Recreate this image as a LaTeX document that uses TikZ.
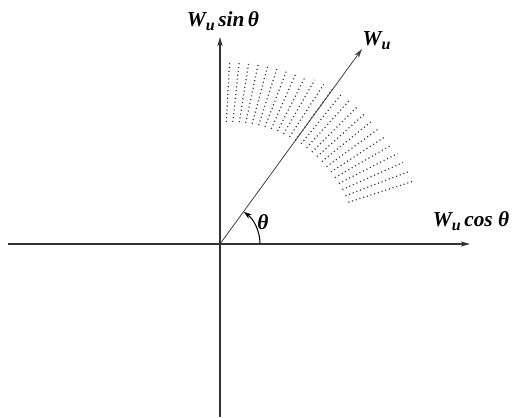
\documentclass[tikz,border=0pt]{standalone}
\usepackage{fontspec}
\setmainfont{Liberation Serif}
\usetikzlibrary{arrows.meta}

\newcommand{\sub}[1]{\raisebox{-0.35ex}{\fontsize{12}{12}\selectfont #1}}

\begin{document}
\begin{tikzpicture}[
    x=0.75pt, y=0.75pt,
    axis/.style={line width=1.1pt, black!80, -{Stealth[length=7pt,width=4pt]}},
    vec/.style={line width=0.6pt, black!75, -{Stealth[length=7pt,width=4pt]}},
    dotline/.style={line width=0.9pt, black!80, dash pattern=on 0.8pt off 2.1pt},
    lbl/.style={font=\fontsize{16}{18}\selectfont\bfseries\itshape, inner sep=1pt}
]
\useasboundingbox (-220,-173) rectangle (293,244);

% Coordinates
\coordinate (o) at (0,0);
\coordinate (xl) at (-212,0);
\coordinate (xr) at (250,0);
\coordinate (yb) at (0,-173);
\coordinate (yt) at (0,207);
\coordinate (wt) at (142,195);

% Dotted band
\foreach \a in {18,21,...,87} {
    \pgfmathsetmacro{\rin}{135-(\a-18)*13/70}
    \pgfmathsetmacro{\rout}{202-(\a-18)*21/70}
    \draw[dotline] (\a:\rin) -- (\a:\rout);
}

% Axes
\draw[axis] (xl) -- (xr);
\draw[axis] (yb) -- (yt);
\draw[vec] (o) -- (wt);

% Angle
\draw[line width=0.8pt, -{Stealth[length=6pt,width=4pt]}] (40,0) arc[start angle=0, end angle=53.5, radius=40];

% Labels
\node[lbl] (theta) at (43,22) {θ};
\node[lbl, anchor=base] (ysin) at (3,217) {W\sub{u}\,sin\,θ};
\node[lbl, anchor=south west] (wlab) at (141,193) {W\sub{u}};
\node[lbl, anchor=south] (xcos) at (251,12) {W\sub{u}\,cos θ};

\end{tikzpicture}
\end{document}
